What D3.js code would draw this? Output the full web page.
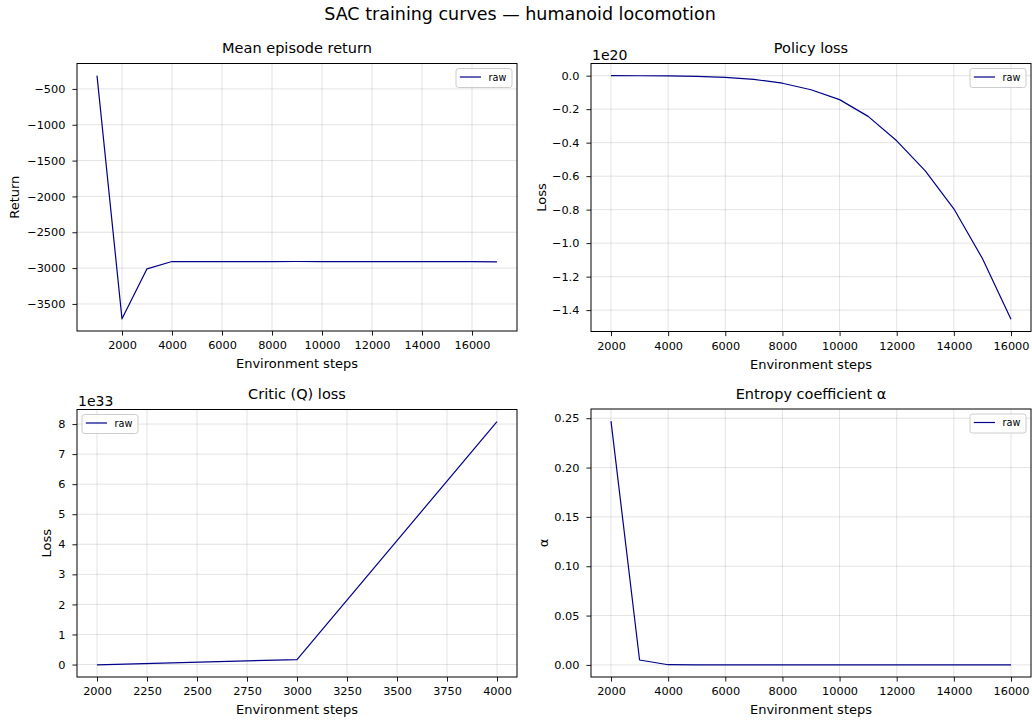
<!DOCTYPE html>
<html>
<head>
<meta charset="utf-8">
<script src="https://cdn.jsdelivr.net/npm/d3@7"></script>
<style>
  html, body { margin: 0; padding: 0; background: #fff; }
  svg { display: block; font-family: "DejaVu Sans", sans-serif; }
</style>
</head>
<body>
<svg id="chart" width="1032" height="721"></svg>
<script>
// ---------------- data ----------------
const returnSteps  = [1000,2000,3000,4000,5000,6000,7000,8000,9000,10000,11000,12000,13000,14000,15000,16000,17000];
const returnValues = [-315,-3708,-3010,-2908,-2910,-2911,-2911,-2910,-2908,-2910,-2911,-2911,-2910,-2911,-2911,-2911,-2912];

const policySteps  = [2000,3000,4000,5000,6000,7000,8000,9000,10000,11000,12000,13000,14000,15000,16000];
const policyValues = [0.0,-0.0005,-0.0015,-0.004,-0.01,-0.022,-0.045,-0.084,-0.143,-0.243,-0.389,-0.569,-0.795,-1.092,-1.455]; // ×1e20

const criticSteps  = [2000,3000,4000];
const criticValues = [-0.01,0.165,8.08]; // ×1e33

const alphaSteps   = [2000,3000,4000,5000,6000,7000,8000,9000,10000,11000,12000,13000,14000,15000,16000];
const alphaValues  = [0.247,0.005,0.0002,0.0001,0.0001,0.0001,0.0001,0.0001,0.0001,0.0001,0.0001,0.0001,0.0001,0.0001,0.0001];

const xTicksLong   = [2000,4000,6000,8000,10000,12000,14000,16000];
const xTicksCritic = [2000,2250,2500,2750,3000,3250,3500,3750,4000];
const yTicksReturn = [-3500,-3000,-2500,-2000,-1500,-1000,-500];
const yTicksPolicy = [-1.4,-1.2,-1.0,-0.8,-0.6,-0.4,-0.2,0.0];
const yTicksCritic = [0,1,2,3,4,5,6,7,8];
const yTicksAlpha  = [0.00,0.05,0.10,0.15,0.20,0.25];

const suptitle = "SAC training curves — humanoid locomotion";
const xLabel = "Environment steps";
const legendLabel = "raw";

// ---------------- drawing ----------------
const svg = d3.select("#chart");
const LINE = "#00008b";
const minus = s => s.replace(/-/g, "\u2212");

svg.append("text").attr("x", 520).attr("y", 20).attr("text-anchor", "middle")
  .attr("font-size", 17.5).attr("fill", "#000").text(suptitle);

function panel(cfg) {
  const {box, xs, ys, xTicks, yTicks, yFmt, title, yLabel, yLabelX, offsetText, legendLeft} = cfg;
  const [L, R, T, B] = box;
  const pad = (a, b) => { const d = (b - a) * 0.05; return [a - d, b + d]; };
  const xd = pad(d3.min(xs), d3.max(xs));
  const yd = pad(d3.min(ys), d3.max(ys));
  const x = d3.scaleLinear().domain(xd).range([L, R]);
  const y = d3.scaleLinear().domain(yd).range([B, T]);
  const g = svg.append("g");

  // grid
  g.append("g").selectAll("line").data(xTicks).join("line")
    .attr("x1", d => x(d)).attr("x2", d => x(d)).attr("y1", T).attr("y2", B)
    .attr("stroke", "#b0b0b0").attr("stroke-opacity", 0.35).attr("stroke-width", 1);
  g.append("g").selectAll("line").data(yTicks).join("line")
    .attr("y1", d => y(d)).attr("y2", d => y(d)).attr("x1", L).attr("x2", R)
    .attr("stroke", "#b0b0b0").attr("stroke-opacity", 0.35).attr("stroke-width", 1);

  // data line
  g.append("path").datum(xs.map((v, i) => [v, ys[i]]))
    .attr("fill", "none").attr("stroke", LINE).attr("stroke-width", 1.2)
    .attr("stroke-linejoin", "round")
    .attr("d", d3.line().x(d => x(d[0])).y(d => y(d[1])));

  // axes
  const xa = g.append("g").attr("transform", `translate(0,${B})`)
    .call(d3.axisBottom(x).tickValues(xTicks).tickSize(4.6).tickPadding(5.8).tickFormat(d3.format("d")));
  const ya = g.append("g").attr("transform", `translate(${L},0)`)
    .call(d3.axisLeft(y).tickValues(yTicks).tickSize(4.6).tickPadding(7).tickFormat(d => minus(yFmt(d))));
  [xa, ya].forEach(a => {
    a.select(".domain").remove();
    a.selectAll("text").attr("font-size", 11.3).attr("fill", "#000").attr("font-family", "DejaVu Sans");
    a.selectAll("line").attr("stroke", "#000").attr("stroke-width", 0.9);
  });

  // frame
  g.append("rect").attr("x", L).attr("y", T).attr("width", R - L).attr("height", B - T)
    .attr("fill", "none").attr("stroke", "#000").attr("stroke-width", 1);

  // title & labels
  g.append("text").attr("x", (L + R) / 2).attr("y", T - 10.5).attr("text-anchor", "middle")
    .attr("font-size", 14.5).attr("fill", "#000").text(title);
  g.append("text").attr("x", (L + R) / 2).attr("y", B + 37).attr("text-anchor", "middle")
    .attr("font-size", 13).attr("fill", "#000").text(xLabel);
  g.append("text").attr("transform", `translate(${yLabelX},${(T + B) / 2}) rotate(-90)`)
    .attr("text-anchor", "middle").attr("dominant-baseline", "central")
    .attr("font-size", 13).attr("fill", "#000").text(yLabel);
  if (offsetText) {
    g.append("text").attr("x", L + 1).attr("y", T - 4).attr("font-size", 14)
      .attr("fill", "#000").text(offsetText);
  }

  // legend
  const lw = 56, lh = 19;
  const lx = legendLeft ? L + 5 : R - 5 - lw, ly = T + 5;
  const lg = g.append("g");
  lg.append("rect").attr("x", lx).attr("y", ly).attr("width", lw).attr("height", lh)
    .attr("rx", 2.5).attr("fill", "#fff").attr("fill-opacity", 0.8)
    .attr("stroke", "#cccccc").attr("stroke-width", 1);
  lg.append("line").attr("x1", lx + 3.8).attr("x2", lx + 25).attr("y1", ly + lh / 2 - 1).attr("y2", ly + lh / 2 - 1)
    .attr("stroke", LINE).attr("stroke-width", 1.2);
  lg.append("text").attr("x", lx + 32.5).attr("y", ly + lh / 2 + 2.5)
    .attr("font-size", 9.7).attr("fill", "#000").text(legendLabel);
}

panel({box: [77, 517, 63.5, 331], xs: returnSteps, ys: returnValues, xTicks: xTicksLong,
  yTicks: yTicksReturn, yFmt: d3.format("d"), title: "Mean episode return",
  yLabel: "Return", yLabelX: 14.5});
panel({box: [591, 1031, 63.5, 331.5], xs: policySteps, ys: policyValues, xTicks: xTicksLong,
  yTicks: yTicksPolicy, yFmt: d3.format(".1f"), title: "Policy loss",
  yLabel: "Loss", yLabelX: 541, offsetText: "1e20"});
panel({box: [77, 517, 409.5, 677], xs: criticSteps, ys: criticValues, xTicks: xTicksCritic,
  yTicks: yTicksCritic, yFmt: d3.format("d"), title: "Critic (Q) loss",
  yLabel: "Loss", yLabelX: 46.5, offsetText: "1e33", legendLeft: true});
panel({box: [591, 1031, 409, 677], xs: alphaSteps, ys: alphaValues, xTicks: xTicksLong,
  yTicks: yTicksAlpha, yFmt: d3.format(".2f"), title: "Entropy coefficient α",
  yLabel: "α", yLabelX: 543});
</script>
</body>
</html>
